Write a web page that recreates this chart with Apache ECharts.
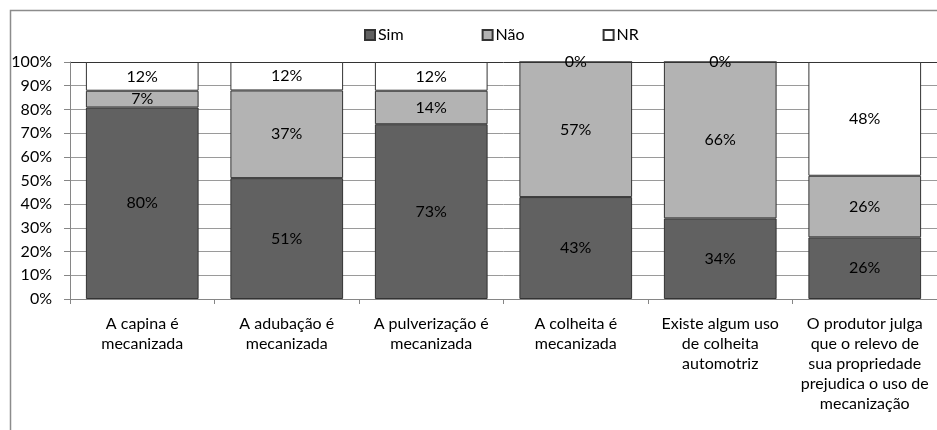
<!DOCTYPE html>
<html>
<head>
<meta charset="utf-8">
<script src="https://cdn.jsdelivr.net/npm/echarts@6/dist/echarts.min.js"></script>
<style>html,body{margin:0;padding:0;background:#fff;}#c{width:937px;height:430px;}</style>
</head>
<body>
<div id="c"></div>
<script>
const categories = [
  "A capina é\nmecanizada",
  "A adubação é\nmecanizada",
  "A pulverização é\nmecanizada",
  "A colheita é\nmecanizada",
  "Existe algum uso\nde colheita\nautomotriz",
  "O produtor julga\nque o relevo de\nsua propriedade\nprejudica o uso de\nmecanização"
];
const simValues = [80, 51, 73, 43, 34, 26];
const naoValues = [7, 37, 14, 57, 66, 26];
const nrValues = [12, 12, 12, 0, 0, 48];
const yTicks = [0, 10, 20, 30, 40, 50, 60, 70, 80, 90, 100];

const FONT = 'Lato';
const totals = categories.map((_, i) => simValues[i] + naoValues[i] + nrValues[i]);
const norm = arr => arr.map((v, i) => v / totals[i] * 100);

function mkSeries(name, raw, color) {
  return {
    name: name,
    type: 'bar',
    stack: 'total',
    barCategoryGap: '22%',
    data: norm(raw),
    itemStyle: { color: color, borderColor: '#333', borderWidth: 1 },
    label: {
      show: true,
      position: 'inside',
      color: '#000',
      fontFamily: FONT,
      fontSize: 16,
      formatter: p => raw[p.dataIndex] + '%'
    },
    emphasis: { disabled: true },
    animation: false
  };
}

const splitColors = yTicks.map((v, i) => i === yTicks.length - 1 ? '#333' : '#9a9a9a');

const chart = echarts.init(document.getElementById('c'), null, { renderer: 'canvas' });
chart.setOption({
  backgroundColor: '#fff',
  animation: false,
  graphic: [{
    type: 'rect',
    shape: { x: 10.5, y: 10.5, width: 1000, height: 1000 },
    style: { fill: 'none', stroke: '#8c8c8c', lineWidth: 1.5 },
    silent: true
  }],
  legend: {
    left: 359,
    top: 22,
    icon: 'rect',
    itemWidth: 10,
    itemHeight: 10,
    itemGap: 78,
    textStyle: { fontFamily: FONT, fontSize: 16, color: '#000', padding: [0, 0, 0, -2] },
    data: ['Sim', 'Não', 'NR']
  },
  grid: { left: 70, right: -3, top: 62, bottom: 131, containLabel: false },
  xAxis: {
    type: 'category',
    data: categories,
    axisLine: { show: true, lineStyle: { color: '#868686', width: 1 } },
    axisTick: { show: true, length: 5, lineStyle: { color: '#868686' } },
    axisLabel: {
      interval: 0,
      margin: 15,
      fontFamily: FONT,
      fontSize: 16,
      color: '#000',
      lineHeight: 20
    }
  },
  yAxis: {
    type: 'value',
    min: 0,
    max: 100,
    interval: 10,
    axisLine: { show: true, lineStyle: { color: '#868686' } },
    axisTick: { show: true, length: 6, lineStyle: { color: '#868686' } },
    axisLabel: {
      margin: 18,
      fontFamily: FONT,
      fontSize: 16,
      color: '#000',
      formatter: '{value}%'
    },
    splitLine: { show: true, lineStyle: { color: splitColors, width: 1 } }
  },
  series: [
    mkSeries('Sim', simValues, '#616161'),
    mkSeries('Não', naoValues, '#b3b3b3'),
    mkSeries('NR', nrValues, '#ffffff')
  ]
});
</script>
</body>
</html>
